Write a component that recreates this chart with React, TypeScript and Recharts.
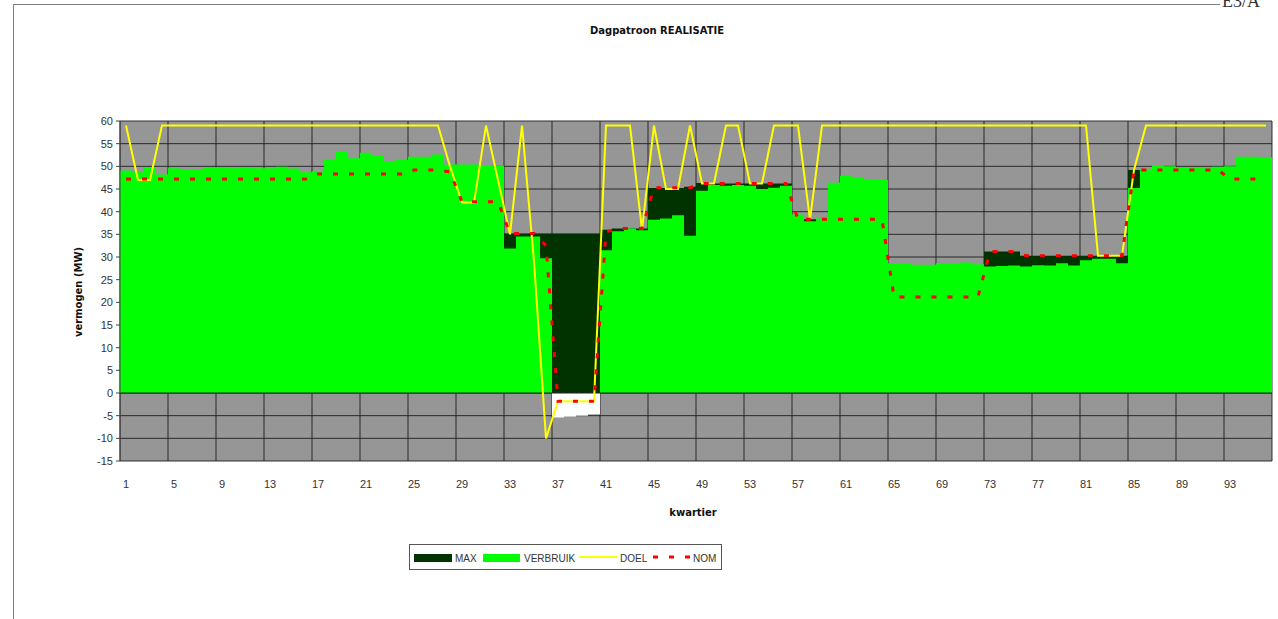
import React from 'react';
import { ComposedChart, Bar, Line, XAxis, YAxis, CartesianGrid, Cell, ReferenceLine } from 'recharts';

const quarters: number[] = Array.from({ length: 96 }, (_, i) => i + 1);

const maxValues: number[] = [
  47.2, 47.2, 47.2, 47.2, 47.2, 47.2, 47.2, 47.2, 47.2, 47.2, 47.2, 47.2, 47.2, 47.2, 47.2, 47.2,
  48.3, 48.3, 48.3, 48.3, 48.3, 48.3, 48.3, 48.3,
  49.2, 49.2, 49.2, 48.8,
  42.2, 42.2, 42.2, 42.2,
  35.2, 35.2, 35.2, 35.2, 35.2, 35.2, 35.2, 35.2,
  36.0, 36.3, 36.3, 36.3,
  45.2, 45.2, 45.2, 45.5,
  46.3, 46.2, 46.2, 46.2, 46.2, 46.2, 46.2, 46.2,
  38.3, 38.3, 38.3, 38.3, 38.3, 38.3, 38.3, 38.3,
  21.2, 21.2, 21.2, 21.2, 21.2, 21.2, 21.2, 21.2,
  31.2, 31.2, 31.2,
  30.3, 30.3, 30.3, 30.3, 30.3, 30.3, 30.3, 30.3, 30.3,
  49.2, 49.2, 49.2, 49.2, 49.2, 49.2, 49.2, 49.2,
  47.2, 47.2, 47.2, 47.2,
];

const verbruikValues: number[] = [
  49.1, 48.7, 49.8, 48.2, 49.6, 49.2, 49.4, 49.8, 49.8, 49.6,
  49.7, 49.6, 49.6, 49.9, 49.5, 48.7, 48.9, 51.5, 53.2, 51.8,
  53.0, 52.4, 51.0, 51.4, 52.1, 52.1, 52.6, 50.4, 50.4, 50.4,
  50.3, 50.2, 31.9, 34.5, 34.5, 29.7, -5.4, -5.2, -5.0, -4.7,
  31.5, 35.7, 36.3, 35.9, 38.2, 38.5, 39.2, 34.7, 44.6, 45.9,
  45.7, 45.9, 45.7, 45.0, 45.3, 45.7, 39.4, 37.9, 38.5, 46.4,
  47.9, 47.4, 47.0, 47.0, 28.6, 28.5, 28.3, 28.3, 28.6, 28.5,
  28.8, 28.4, 27.9, 28.0, 28.1, 27.9, 28.2, 28.1, 28.6, 28.1,
  29.3, 29.6, 29.6, 28.6, 45.2, 49.3, 50.3, 50.0, 49.8, 49.8,
  49.6, 49.9, 50.0, 52.1, 52.1, 52.0,
];

const doelValues: number[] = [
  59, 47, 47,
  59, 59, 59, 59, 59, 59, 59, 59, 59, 59, 59, 59, 59, 59, 59, 59, 59, 59, 59, 59, 59, 59, 59, 59,
  50, 42, 42, 59, 47, 35, 59, 29, -10,
  -1.8, -1.8, -1.8, -1.8,
  59, 59, 59, 36, 59, 45, 45, 59, 46.2, 46.2, 59, 59, 46.2, 46.2, 59, 59, 59, 38.2,
  59, 59, 59, 59, 59, 59, 59, 59, 59, 59, 59, 59, 59, 59, 59, 59, 59, 59, 59, 59, 59, 59, 59,
  30.3, 30.3, 30.3, 49.2,
  59, 59, 59, 59, 59, 59, 59, 59, 59, 59, 59,
];

const nomValues: number[] = [
  47.2, 47.2, 47.2, 47.2, 47.2, 47.2, 47.2, 47.2, 47.2, 47.2, 47.2, 47.2, 47.2, 47.2, 47.2, 47.2,
  48.3, 48.3, 48.3, 48.3, 48.3, 48.3, 48.3, 48.3,
  49.2, 49.2, 49.2, 48.8,
  42.2, 42.2, 42.2, 42.2,
  35.2, 35.2, 35.2, 32.5,
  -1.8, -1.8, -1.8, -1.8,
  35.5, 36.3, 36.3, 36.3,
  45.3, 45.3, 45.3, 45.3,
  46.2, 46.2, 46.2, 46.2, 46.2, 46.2, 46.2, 46.2,
  38.3, 38.3, 38.3, 38.3, 38.3, 38.3, 38.3, 38.3,
  21.2, 21.2, 21.2, 21.2, 21.2, 21.2, 21.2, 21.2,
  31.2, 31.2, 31.2,
  30.3, 30.3, 30.3, 30.3, 30.3, 30.3, 30.3, 30.3, 30.3,
  49.2, 49.2, 49.2, 49.2, 49.2, 49.2, 49.2, 49.2,
  47.2, 47.2, 47.2, 47.2,
];

const yTicks: number[] = [-15, -10, -5, 0, 5, 10, 15, 20, 25, 30, 35, 40, 45, 50, 55, 60];
const gridBoundaries: number[] = [4.5, 8.5, 12.5, 16.5, 20.5, 24.5, 28.5, 32.5, 36.5, 40.5, 44.5, 48.5, 52.5, 56.5, 60.5, 64.5, 68.5, 72.5, 76.5, 80.5, 84.5, 88.5, 92.5];

const data = quarters.map((q, i) => ({
  q,
  MAX: maxValues[i],
  VERBRUIK: verbruikValues[i],
  DOEL: doelValues[i],
  NOM: nomValues[i],
}));

const tickFont = { fontFamily: '"Liberation Sans", Arial, sans-serif', fontSize: 11, fill: '#333' };
const boldFont = '"DejaVu Sans", Verdana, sans-serif';

function LegendBox() {
  const txt = { fontFamily: '"Liberation Sans", Arial, sans-serif', fontSize: 10, fill: '#333' } as const;
  return (
    <svg width={314} height={27} style={{ position: 'absolute', left: 409, top: 544 }}>
      <rect x={0.5} y={0.5} width={312} height={25} fill="#fff" stroke="#555" />
      <rect x={5} y={10} width={38} height={8} fill="#003300" />
      <text x={46} y={18} {...txt}>MAX</text>
      <rect x={74} y={10} width={37} height={8} fill="#00ff00" />
      <text x={115} y={18} {...txt}>VERBRUIK</text>
      <line x1={170} x2={208} y1={13} y2={13} stroke="#ffff00" strokeWidth={2} />
      <text x={211} y={18} {...txt}>DOEL</text>
      <line x1={244} x2={282} y1={13} y2={13} stroke="#ff0000" strokeWidth={3} strokeDasharray="5 11" />
      <text x={284} y={18} {...txt}>NOM</text>
    </svg>
  );
}

export default function App() {
  return (
    <div style={{ position: 'absolute', left: 0, top: 0, width: 1278, height: 619, background: '#fff', overflow: 'hidden' }}>
      <div style={{ position: 'absolute', left: 13, top: 4, width: 1206, height: 620, borderTop: '1px solid #808080', borderLeft: '1px solid #808080' }} />
      <div style={{ position: 'absolute', left: 1222, top: -9, fontFamily: '"Liberation Serif", serif', fontSize: 18, lineHeight: '20px', color: '#333' }}>E3/A</div>
      <div style={{ position: 'absolute', left: 557, top: 24, width: 200, textAlign: 'center', fontFamily: boldFont, fontWeight: 'bold', fontSize: 10, lineHeight: '14px', color: '#111' }}>
        Dagpatroon REALISATIE
      </div>
      <div style={{ position: 'absolute', left: 79 - 60, top: 292 - 7, width: 120, height: 14, lineHeight: '14px', textAlign: 'center', transform: 'rotate(-90deg)', fontFamily: boldFont, fontWeight: 'bold', fontSize: 10, color: '#111' }}>
        vermogen (MW)
      </div>
      <div style={{ position: 'absolute', left: 593, top: 506, width: 200, textAlign: 'center', fontFamily: boldFont, fontWeight: 'bold', fontSize: 10, lineHeight: '14px', color: '#111' }}>
        kwartier
      </div>
      <ComposedChart
        width={1278}
        height={619}
        data={data}
        margin={{ top: 121, right: 6, bottom: 128, left: 0 }}
        barCategoryGap={0}
        barGap={0}
      >
        <CartesianGrid xAxisId="grid" fill="#969696" stroke="#1e1e1e" strokeOpacity={0.9} vertical horizontal />
        <XAxis
          xAxisId="main"
          dataKey="q"
          interval={3}
          axisLine={false}
          tickLine={false}
          tickSize={0}
          tickMargin={19}
          height={30}
          tick={tickFont}
        />
        <XAxis xAxisId="max" dataKey="q" hide height={0} />
        <XAxis xAxisId="grid" type="number" dataKey="q" domain={[0.5, 96.5]} ticks={gridBoundaries} hide height={0} />
        <YAxis
          width={120}
          domain={[-15, 60]}
          ticks={yTicks}
          interval={0}
          allowDataOverflow
          tick={tickFont}
          tickSize={4}
          tickMargin={3}
          axisLine={{ stroke: '#444' }}
          tickLine={{ stroke: '#444' }}
        />
        <Bar xAxisId="max" dataKey="MAX" fill="#003300" isAnimationActive={false} />
        <Bar xAxisId="main" dataKey="VERBRUIK" fill="#00ff00" isAnimationActive={false}>
          {data.map((d) => (
            <Cell key={d.q} fill={d.VERBRUIK < 0 ? '#ffffff' : '#00ff00'} />
          ))}
        </Bar>
        <ReferenceLine xAxisId="main" y={0} stroke="#222" />
        <Line xAxisId="main" type="linear" dataKey="DOEL" stroke="#ffff00" strokeWidth={2} dot={false} activeDot={false} isAnimationActive={false} />
        <Line xAxisId="main" type="linear" dataKey="NOM" stroke="#ff0000" strokeWidth={3} strokeDasharray="5 11" dot={false} activeDot={false} isAnimationActive={false} />
      </ComposedChart>
      <LegendBox />
    </div>
  );
}
